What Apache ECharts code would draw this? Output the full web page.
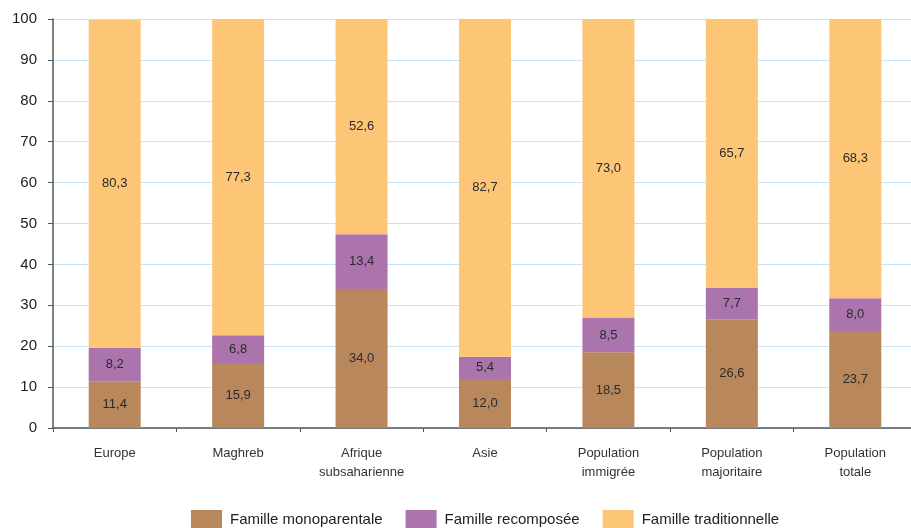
<!DOCTYPE html>
<html>
<head>
<meta charset="utf-8">
<script src="https://cdn.jsdelivr.net/npm/echarts@6/dist/echarts.min.js"></script>
<style>
  html, body { margin: 0; padding: 0; background: #fff; overflow: hidden; }
  #chart { width: 917px; height: 528px; }
</style>
</head>
<body>
<div id="chart"></div>
<script>
// Household structure by origin group (%)
const categories = ['Europe', 'Maghreb', 'Afrique\nsubsaharienne', 'Asie', 'Population\nimmigrée', 'Population\nmajoritaire', 'Population\ntotale'];
const monoparentale = [11.4, 15.9, 34.0, 12.0, 18.5, 26.6, 23.7];
const recomposee = [8.2, 6.8, 13.4, 5.4, 8.5, 7.7, 8.0];
const traditionnelle = [80.3, 77.3, 52.6, 82.7, 73.0, 65.7, 68.3];
const seriesNames = ['Famille monoparentale', 'Famille recomposée', 'Famille traditionnelle'];
const yTicks = [0, 10, 20, 30, 40, 50, 60, 70, 80, 90, 100];

const colors = ['#B8875C', '#AB74AD', '#FDC576'];
const font = 'Liberation Sans, Arial, sans-serif';

const chart = echarts.init(document.getElementById('chart'));

function makeSeries(name, data, color) {
  return {
    name: name,
    type: 'bar',
    stack: 'total',
    barWidth: 52,
    data: data,
    itemStyle: { color: color },
    label: {
      show: true,
      position: 'inside',
      color: '#2b2b2b',
      fontFamily: font,
      fontSize: 13,
      formatter: p => p.value.toFixed(1).replace('.', ',')
    }
  };
}

chart.setOption({
  animation: false,
  textStyle: { fontFamily: font },
  grid: { left: 53, right: 0, top: 19, bottom: 100, containLabel: false },
  legend: {
    bottom: -2,
    left: 191,
    padding: 0,
    itemWidth: 31,
    itemHeight: 20,
    itemGap: 23,
    icon: 'rect',
    textStyle: { fontSize: 15, color: '#222', fontFamily: font, padding: [0, 0, 0, 3] },
    data: seriesNames
  },
  xAxis: {
    type: 'category',
    data: categories,
    axisLine: { lineStyle: { color: '#555', width: 1.5 } },
    axisTick: { show: true, length: 4, lineStyle: { color: '#555' } },
    axisLabel: { color: '#333', fontSize: 13, margin: 16, lineHeight: 19, fontFamily: font }
  },
  yAxis: {
    type: 'value',
    min: yTicks[0],
    max: yTicks[yTicks.length - 1],
    interval: 10,
    axisLine: { show: true, lineStyle: { color: '#555', width: 1.5 } },
    axisTick: { show: true, length: 5, lineStyle: { color: '#555' } },
    axisLabel: { color: '#222', fontSize: 15, margin: 16, fontFamily: font },
    splitLine: { lineStyle: { color: '#C6E4F6', width: 1.2 } }
  },
  series: [
    makeSeries(seriesNames[0], monoparentale, colors[0]),
    makeSeries(seriesNames[1], recomposee, colors[1]),
    makeSeries(seriesNames[2], traditionnelle, colors[2])
  ]
});
</script>
</body>
</html>
